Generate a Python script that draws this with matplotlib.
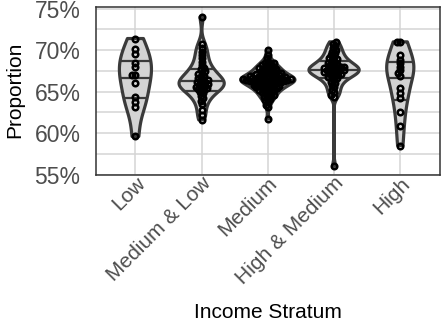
import numpy as np
import matplotlib
matplotlib.use("Agg")
import matplotlib.pyplot as plt
from matplotlib.patches import Polygon
from matplotlib.transforms import ScaledTranslation
from matplotlib.ticker import FuncFormatter, MultipleLocator, FixedLocator

# ---------------- data (percent) ----------------
categories = ["Low", "Medium & Low", "Medium", "High & Medium", "High"]

low = [71.4, 70.1, 69.5, 68.5, 68.0, 67.0, 67.0, 66.0, 64.4, 63.7, 63.2, 59.6]

medium_low = [74.0, 70.8, 70.3, 69.8, 69.4, 69.0, 68.6, 68.2, 67.9, 67.7, 67.5,
              67.3, 67.1, 66.9, 66.8, 66.6, 66.5, 66.4, 66.3, 66.2, 66.1, 66.0,
              65.9, 65.8, 65.7, 65.6, 65.5, 65.4, 65.3, 65.2, 65.0, 64.8, 64.5,
              64.2, 63.9, 63.5, 62.8, 62.2, 61.6]

medium = [70.0, 69.4, 69.0,
          68.6, 68.5, 68.4, 68.3, 68.2, 68.1, 68.0,
          67.9, 67.85, 67.8, 67.7, 67.65, 67.6, 67.5, 67.45, 67.4, 67.3, 67.25,
          67.2, 67.15, 67.1, 67.05, 67.0,
          66.95, 66.9, 66.85, 66.8, 66.8, 66.75, 66.7, 66.7, 66.65, 66.6, 66.6,
          66.55, 66.5, 66.5, 66.45, 66.45, 66.4, 66.4, 66.35, 66.35, 66.3, 66.3,
          66.25, 66.2, 66.2, 66.15, 66.1, 66.1, 66.05, 66.0,
          65.95, 65.9, 65.85, 65.8, 65.75, 65.7, 65.65, 65.6, 65.55, 65.5, 65.45,
          65.4, 65.3, 65.25, 65.2, 65.1, 65.0,
          64.9, 64.8, 64.7, 64.6, 64.5, 64.4, 64.3, 64.1, 64.0,
          63.8, 63.4, 63.1, 61.7]

high_medium = [71.0, 70.8, 70.5, 70.2, 70.0, 69.8, 69.6, 69.4, 69.2, 69.0, 68.9,
               68.8, 68.6, 68.5, 68.4, 68.3, 68.2, 68.1, 68.0, 67.95, 67.9, 67.85,
               67.8, 67.7, 67.65, 67.6, 67.55, 67.5, 67.4, 67.35, 67.3, 67.2,
               67.15, 67.1, 67.0, 66.9, 66.8, 66.7, 66.6, 66.4, 66.2, 66.0, 65.8,
               65.5, 65.2, 64.9, 64.6, 64.4, 56.0]

high = [71.0, 71.0, 69.4, 68.8, 68.4, 68.0, 67.6, 67.2, 66.9, 65.4, 64.8, 64.2,
        62.5, 60.9, 58.5]

groups = [low, medium_low, medium, high_medium, high]

y_ticks = [55, 60, 65, 70, 75]

# ---------------- styles ----------------
W_PX, H_PX, DPI = 441, 324, 100
AX_L, AX_R, AX_T, AX_B = 95.7, 440.0, 7.0, 175.0      # pixel box of the panel
XLIM = (0.4, 5.6)
YLIM = (54.95, 75.2)
HALF_WIDTHS = [0.242, 0.341, 0.409, 0.379, 0.205]     # violin max half-widths (x units)
SWARM_SPACING_PX = 3.4

plt.rcParams["font.family"] = ["Liberation Sans", "DejaVu Sans"]

fig = plt.figure(figsize=(W_PX / DPI, H_PX / DPI), dpi=DPI)
ax = fig.add_axes([AX_L / W_PX, 1 - AX_B / H_PX, (AX_R - AX_L) / W_PX, (AX_B - AX_T) / H_PX])
ax.set_xlim(*XLIM)
ax.set_ylim(*YLIM)

px_per_x = (AX_R - AX_L) / (XLIM[1] - XLIM[0])
px_per_y = (AX_B - AX_T) / (YLIM[1] - YLIM[0])


def kde(vals, grid):
    v = np.asarray(vals, float)
    n = len(v)
    sd = v.std(ddof=1)
    iqr = np.percentile(v, 75) - np.percentile(v, 25)
    lo = min(sd, iqr / 1.34) if iqr > 0 else sd
    bw = 0.9 * lo * n ** -0.2
    z = (grid[:, None] - v[None, :]) / bw
    return np.exp(-0.5 * z ** 2).sum(axis=1) / (n * bw * np.sqrt(2 * np.pi))


def swarm(vals, d):
    v = np.asarray(vals, float)
    ypx = v * px_per_y
    order = np.argsort(v, kind="stable")
    xs = np.zeros(len(v))
    placed = []
    for i in order:
        y = ypx[i]
        forb = []
        for (xj, yj) in placed:
            dy = abs(y - yj)
            if dy < d:
                h = np.sqrt(d * d - dy * dy)
                forb.append((xj - h, xj + h))
        cands = [0.0] + [a for a, b in forb] + [b for a, b in forb]
        cands.sort(key=lambda c: (abs(c), c))
        chosen = 0.0
        for c in cands:
            if all(not (a + 1e-6 < c < b - 1e-6) for a, b in forb):
                chosen = c
                break
        xs[i] = chosen
        placed.append((chosen, y))
    return xs / px_per_x


edge_col = "#3a3a3a"
for i, (vals, hw) in enumerate(zip(groups, HALF_WIDTHS)):
    pos = i + 1
    v = np.asarray(vals, float)
    grid = np.linspace(v.min(), v.max(), 512)
    dens = kde(v, grid)
    w = dens / dens.max() * hw
    xs = np.concatenate([pos - w, (pos + w)[::-1]])
    ys = np.concatenate([grid, grid[::-1]])
    ax.add_patch(Polygon(np.column_stack([xs, ys]), closed=True, facecolor="#d3d3d3",
                         edgecolor=edge_col, linewidth=2.3, zorder=3, joinstyle="round"))
    cdf = np.cumsum(dens)
    cdf = cdf / cdf[-1]
    for q in (0.25, 0.5, 0.75):
        yq = np.interp(q, cdf, grid)
        wq = np.interp(yq, grid, w)
        ax.plot([pos - wq, pos + wq], [yq, yq], color=edge_col, lw=1.6, zorder=4,
                solid_capstyle="butt")
    off = swarm(v, SWARM_SPACING_PX)
    ax.plot(pos + off, v, linestyle="none", marker="o", mfc="none", mec="black",
            ms=4.0, mew=1.8, zorder=5)

# axes styling
ax.set_xticks(range(1, len(categories) + 1))
ax.set_xticklabels(categories, rotation=45, ha="right", va="top",
                   rotation_mode="anchor", color="#4d4d4d", fontsize=15)
shift = ScaledTranslation(3 / DPI, 0, fig.dpi_scale_trans)
for lab in ax.get_xticklabels():
    lab.set_transform(lab.get_transform() + shift)
ax.yaxis.set_major_locator(FixedLocator(y_ticks))
ax.yaxis.set_minor_locator(MultipleLocator(2.5))
ax.yaxis.set_major_formatter(FuncFormatter(lambda v, p: f"{v:.0f}%"))
ax.tick_params(axis="y", labelsize=16.5, labelcolor="#4d4d4d", length=0, pad=11)
ax.tick_params(axis="y", which="minor", length=0)
ax.tick_params(axis="x", length=0, pad=-1)
ax.grid(True, which="major", color="#d4d4d4", lw=1.1, zorder=0)
ax.grid(True, which="minor", axis="y", color="#d4d4d4", lw=1.1, zorder=0)
ax.set_axisbelow(True)
for s in ax.spines.values():
    s.set_color("#333333")
    s.set_linewidth(1.1)

fig.text(15 / W_PX, 1 - 90 / H_PX, "Proportion", rotation=90, ha="center", va="center",
         fontsize=15, color="black")
fig.text((AX_L + AX_R) / 2 / W_PX, 1 - 313 / H_PX, "Income Stratum", ha="center",
         va="center", fontsize=15, color="black")

fig.savefig("out.png", dpi=DPI)
